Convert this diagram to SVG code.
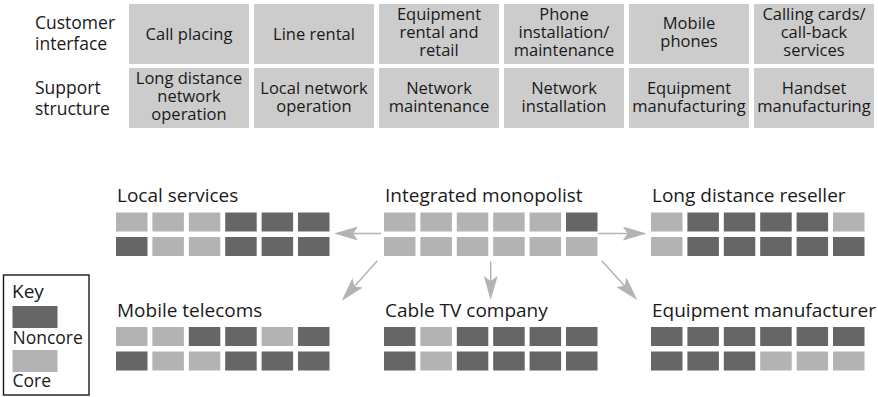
<svg xmlns="http://www.w3.org/2000/svg" width="878" height="397" viewBox="0 0 878 397">
<style>
text{font-family:"Open Sans","Noto Sans","DejaVu Sans",sans-serif;fill:#1a1a1a}
.cell{fill:#cccccc}
.ct{font-size:16.5px;text-anchor:middle}
.rl{font-size:17.5px}
.ti{font-size:19px}
.c{fill:#b3b3b3}
.n{fill:#666666}
.arr{stroke:#b3b3b3;stroke-width:1.5;fill:none;marker-end:url(#ah)}
</style>
<defs>
<marker id="ah" viewBox="0 0 24 14" refX="14" refY="7" markerWidth="24" markerHeight="14" markerUnits="userSpaceOnUse" orient="auto">
<path d="M0,0 L24,7 L0,14 L5,7 Z" fill="#b3b3b3"/>
</marker>
<rect id="sq" width="31.5" height="19"/>
</defs>

<g id="row-labels">
<text class="rl" x="35" y="29">Customer<tspan x="35" dy="21">interface</tspan></text>
<text class="rl" x="35" y="94">Support<tspan x="35" dy="21">structure</tspan></text>
</g>

<g id="cell-call-placing"><rect class="cell" x="129" y="4" width="120" height="60"/><text class="ct" x="189" y="39.5">Call placing</text></g>
<g id="cell-line-rental"><rect class="cell" x="254" y="4" width="120" height="60"/><text class="ct" x="314" y="39.5">Line rental</text></g>
<g id="cell-equipment-rental"><rect class="cell" x="379" y="4" width="120" height="60"/><text class="ct" x="439" y="20">Equipment<tspan x="439" dy="18">rental and</tspan><tspan x="439" dy="18">retail</tspan></text></g>
<g id="cell-phone-installation"><rect class="cell" x="504" y="4" width="120" height="60"/><text class="ct" x="564" y="20">Phone<tspan x="564" dy="18">installation/</tspan><tspan x="564" dy="18">maintenance</tspan></text></g>
<g id="cell-mobile-phones"><rect class="cell" x="629" y="4" width="120" height="60"/><text class="ct" x="689" y="29">Mobile<tspan x="689" dy="18">phones</tspan></text></g>
<g id="cell-calling-cards"><rect class="cell" x="754" y="4" width="120" height="60"/><text class="ct" x="814" y="20">Calling cards/<tspan x="814" dy="18">call-back</tspan><tspan x="814" dy="18">services</tspan></text></g>

<g id="cell-long-distance-op"><rect class="cell" x="129" y="68" width="120" height="60"/><text class="ct" x="189" y="84">Long distance<tspan x="189" dy="18">network</tspan><tspan x="189" dy="18">operation</tspan></text></g>
<g id="cell-local-network-op"><rect class="cell" x="254" y="68" width="120" height="60"/><text class="ct" x="314" y="94">Local network<tspan x="314" dy="18">operation</tspan></text></g>
<g id="cell-network-maintenance"><rect class="cell" x="379" y="68" width="120" height="60"/><text class="ct" x="439" y="94">Network<tspan x="439" dy="18">maintenance</tspan></text></g>
<g id="cell-network-installation"><rect class="cell" x="504" y="68" width="120" height="60"/><text class="ct" x="564" y="94">Network<tspan x="564" dy="18">installation</tspan></text></g>
<g id="cell-equipment-manufacturing"><rect class="cell" x="629" y="68" width="120" height="60"/><text class="ct" x="689" y="94">Equipment<tspan x="689" dy="18">manufacturing</tspan></text></g>
<g id="cell-handset-manufacturing"><rect class="cell" x="754" y="68" width="120" height="60"/><text class="ct" x="814" y="94">Handset<tspan x="814" dy="18">manufacturing</tspan></text></g>

<g id="local-services" transform="translate(116,212.5)">
<text class="ti" x="1" y="-10.5">Local services</text>
<use href="#sq" class="c" x="0" y="0"/><use href="#sq" class="c" x="36.4" y="0"/><use href="#sq" class="c" x="72.8" y="0"/><use href="#sq" class="n" x="109.2" y="0"/><use href="#sq" class="n" x="145.6" y="0"/><use href="#sq" class="n" x="182" y="0"/>
<use href="#sq" class="n" x="0" y="24.5"/><use href="#sq" class="c" x="36.4" y="24.5"/><use href="#sq" class="c" x="72.8" y="24.5"/><use href="#sq" class="n" x="109.2" y="24.5"/><use href="#sq" class="n" x="145.6" y="24.5"/><use href="#sq" class="n" x="182" y="24.5"/>
</g>

<g id="integrated-monopolist" transform="translate(384,212.5)">
<text class="ti" x="1" y="-10.5">Integrated monopolist</text>
<use href="#sq" class="c" x="0" y="0"/><use href="#sq" class="c" x="36.4" y="0"/><use href="#sq" class="c" x="72.8" y="0"/><use href="#sq" class="c" x="109.2" y="0"/><use href="#sq" class="c" x="145.6" y="0"/><use href="#sq" class="n" x="182" y="0"/>
<use href="#sq" class="c" x="0" y="24.5"/><use href="#sq" class="c" x="36.4" y="24.5"/><use href="#sq" class="c" x="72.8" y="24.5"/><use href="#sq" class="c" x="109.2" y="24.5"/><use href="#sq" class="c" x="145.6" y="24.5"/><use href="#sq" class="c" x="182" y="24.5"/>
</g>

<g id="long-distance-reseller" transform="translate(651,212.5)">
<text class="ti" x="1" y="-10.5">Long distance reseller</text>
<use href="#sq" class="c" x="0" y="0"/><use href="#sq" class="n" x="36.4" y="0"/><use href="#sq" class="n" x="72.8" y="0"/><use href="#sq" class="n" x="109.2" y="0"/><use href="#sq" class="n" x="145.6" y="0"/><use href="#sq" class="c" x="182" y="0"/>
<use href="#sq" class="c" x="0" y="24.5"/><use href="#sq" class="n" x="36.4" y="24.5"/><use href="#sq" class="n" x="72.8" y="24.5"/><use href="#sq" class="n" x="109.2" y="24.5"/><use href="#sq" class="n" x="145.6" y="24.5"/><use href="#sq" class="n" x="182" y="24.5"/>
</g>

<g id="mobile-telecoms" transform="translate(116,327)">
<text class="ti" x="1" y="-10">Mobile telecoms</text>
<use href="#sq" class="c" x="0" y="0"/><use href="#sq" class="c" x="36.4" y="0"/><use href="#sq" class="n" x="72.8" y="0"/><use href="#sq" class="n" x="109.2" y="0"/><use href="#sq" class="c" x="145.6" y="0"/><use href="#sq" class="n" x="182" y="0"/>
<use href="#sq" class="n" x="0" y="24.5"/><use href="#sq" class="c" x="36.4" y="24.5"/><use href="#sq" class="c" x="72.8" y="24.5"/><use href="#sq" class="n" x="109.2" y="24.5"/><use href="#sq" class="n" x="145.6" y="24.5"/><use href="#sq" class="n" x="182" y="24.5"/>
</g>

<g id="cable-tv-company" transform="translate(384,327)">
<text class="ti" x="1" y="-10">Cable TV company</text>
<use href="#sq" class="n" x="0" y="0"/><use href="#sq" class="c" x="36.4" y="0"/><use href="#sq" class="n" x="72.8" y="0"/><use href="#sq" class="n" x="109.2" y="0"/><use href="#sq" class="n" x="145.6" y="0"/><use href="#sq" class="n" x="182" y="0"/>
<use href="#sq" class="n" x="0" y="24.5"/><use href="#sq" class="c" x="36.4" y="24.5"/><use href="#sq" class="n" x="72.8" y="24.5"/><use href="#sq" class="n" x="109.2" y="24.5"/><use href="#sq" class="n" x="145.6" y="24.5"/><use href="#sq" class="n" x="182" y="24.5"/>
</g>

<g id="equipment-manufacturer" transform="translate(651,327)">
<text class="ti" x="1" y="-10">Equipment manufacturer</text>
<use href="#sq" class="n" x="0" y="0"/><use href="#sq" class="n" x="36.4" y="0"/><use href="#sq" class="n" x="72.8" y="0"/><use href="#sq" class="n" x="109.2" y="0"/><use href="#sq" class="n" x="145.6" y="0"/><use href="#sq" class="n" x="182" y="0"/>
<use href="#sq" class="n" x="0" y="24.5"/><use href="#sq" class="n" x="36.4" y="24.5"/><use href="#sq" class="n" x="72.8" y="24.5"/><use href="#sq" class="c" x="109.2" y="24.5"/><use href="#sq" class="c" x="145.6" y="24.5"/><use href="#sq" class="c" x="182" y="24.5"/>
</g>

<g id="connectors">
<path class="arr" d="M381,233.5 L344,233.5"/>
<path class="arr" d="M598,233.5 L636.7,233.5"/>
<path class="arr" d="M490.7,261.5 L490.7,290"/>
<path class="arr" d="M377.3,260.7 L348.4,293.2"/>
<path class="arr" d="M601.7,260.7 L630.6,292.6"/>
</g>

<g id="key">
<rect x="3.5" y="275" width="85.5" height="120" fill="none" stroke="#1a1a1a" stroke-width="1.4"/>
<text class="ti" x="12" y="297.5">Key</text>
<rect class="n" x="12.5" y="306" width="45" height="22"/>
<text class="rl" x="12.5" y="344">Noncore</text>
<rect class="c" x="12.5" y="350" width="45" height="22"/>
<text class="rl" x="12.5" y="386.5">Core</text>
</g>
</svg>
